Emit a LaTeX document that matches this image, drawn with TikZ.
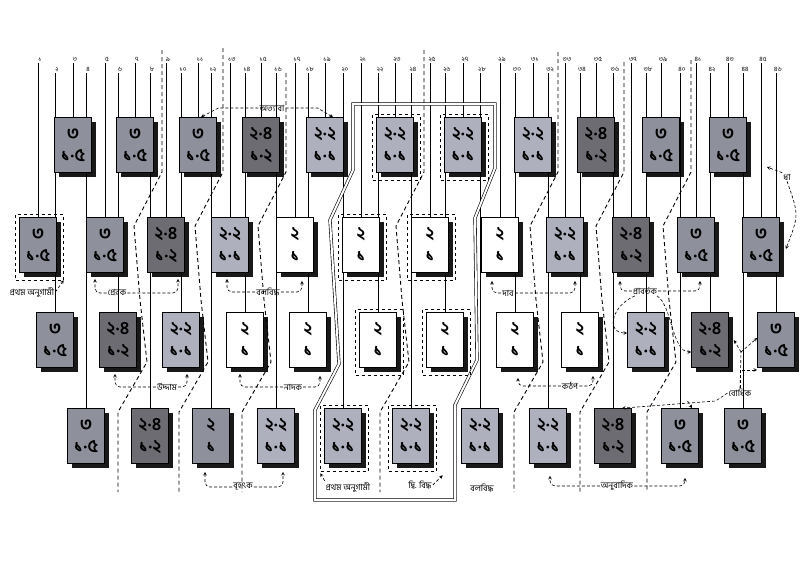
\documentclass[tikz,border=0pt]{standalone}
\usepackage{fontspec}
\newfontfamily\bn[Script=Bengali]{Hind Siliguri}
\usetikzlibrary{shadows,fit,backgrounds}
\definecolor{boxgrey}{RGB}{142,144,156}
\definecolor{boxdark}{RGB}{108,108,114}
\definecolor{boxlight}{RGB}{174,176,190}
\newcommand\bdigit[1]{\ifcase#1 ০\or ১\or ২\or ৩\or ৪\or ৫\or ৬\or ৭\or ৮\or ৯\fi}

\begin{document}
\begin{tikzpicture}[x=1pt, y=-1pt]

    % Styles
    \tikzstyle{bx} = [rectangle, draw=black, line width=0.7pt, minimum width=37pt, minimum height=55pt, align=center, inner sep=0pt, font=\bn\bfseries\fontsize{18}{22}\selectfont, drop shadow={shadow xshift=4pt, shadow yshift=-4pt, fill=black, opacity=0.9}]
    \tikzstyle{gthree} = [bx, fill=boxgrey]
    \tikzstyle{gfour} = [bx, fill=boxdark]
    \tikzstyle{gtwo} = [bx, fill=boxlight]
    \tikzstyle{gone} = [bx, fill=white]
    \tikzstyle{vline} = [line width=0.7pt]
    \tikzstyle{sep} = [line width=0.9pt, dash pattern=on 4pt off 3pt]
    \tikzstyle{frame} = [double, double distance=2pt, line width=0.6pt]
    \tikzstyle{dbox} = [draw, dashed, line width=0.7pt, inner sep=5pt]
    \tikzstyle{lab} = [font=\bn\fontsize{8.5}{10}\selectfont, inner sep=1pt]
    \tikzstyle{numlab} = [font=\bn\fontsize{6.5}{8}\selectfont, inner sep=1pt, anchor=south]
    \tikzstyle{conn} = [densely dashed, semithick, ->, >=stealth]

    \useasboundingbox (0,0) rectangle (800,560);

    % Boites
    \foreach \c/\xx/\sty/\hi/\lo in {1/73/gthree/৩/১·৫, 2/135/gthree/৩/১·৫, 3/198/gthree/৩/১·৫, 4/261/gfour/২·৪/১·২, 5/325/gtwo/২·২/১·১, 6/395/gtwo/২·২/১·১, 7/463/gtwo/২·২/১·১, 8/533/gtwo/২·২/১·১, 9/596/gfour/২·৪/১·২, 10/661/gthree/৩/১·৫, 11/728/gthree/৩/১·৫}
        \node[\sty] (r1c\c) at (\xx,145) {\hi\\\lo};
    \foreach \c/\xx/\sty/\hi/\lo in {1/38/gthree/৩/১·৫, 2/105/gthree/৩/১·৫, 3/166/gfour/২·৪/১·২, 4/230/gtwo/২·২/১·১, 5/295/gone/২/১, 6/361/gone/২/১, 7/430/gone/২/১, 8/500/gone/২/১, 9/565/gtwo/২·২/১·১, 10/631/gfour/২·৪/১·২, 11/696/gthree/৩/১·৫, 12/761/gthree/৩/১·৫}
        \node[\sty] (r2c\c) at (\xx,245) {\hi\\\lo};
    \foreach \c/\xx/\sty/\hi/\lo in {1/55/gthree/৩/১·৫, 2/118/gfour/২·৪/১·২, 3/181/gtwo/২·২/১·১, 4/245/gone/২/১, 5/308/gone/২/১, 6/378/gone/২/১, 7/445/gone/২/১, 8/515/gone/২/১, 9/580/gone/২/১, 10/646/gtwo/২·২/১·১, 11/710/gfour/২·৪/১·২, 12/776/gthree/৩/১·৫}
        \node[\sty] (r3c\c) at (\xx,340) {\hi\\\lo};
    \foreach \c/\xx/\sty/\hi/\lo in {1/86/gthree/৩/১·৫, 2/150/gfour/২·৪/১·২, 3/211/gthree/২/১, 4/276/gtwo/২·২/১·১, 5/343/gtwo/২·২/১·১, 6/411/gtwo/২·২/১·১, 7/480/gtwo/২·২/১·১, 8/548/gtwo/২·২/১·১, 9/613/gfour/২·৪/১·২, 10/680/gthree/৩/১·৫, 11/743/gthree/৩/১·৫}
        \node[\sty] (r4c\c) at (\xx,436) {\hi\\\lo};

    % Cadres en tirets
    \foreach \n in {r1c6,r1c7,r2c1,r2c6,r2c7,r3c6,r3c7,r4c5,r4c6}
        \node[dbox, fit=(\n), xshift=1.5pt, yshift=-2pt] (d\n) {};

    \begin{scope}[on background layer]
        % Lignes verticales
        \foreach \g in {1,...,12}
            \foreach \rw [count=\k] in {2,3,1,4}{
                \pgfmathtruncatemacro\i{4*(\g-1)+\k}
                \ifnum\i<47
                    \pgfmathtruncatemacro\ytop{mod(\i,2)==1 ? 63 : 73}
                    \pgfmathtruncatemacro\tens{\i/10}
                    \pgfmathtruncatemacro\ones{\i-10*\tens}
                    \coordinate (t\i) at (r\rw c\g.north |- 0,\ytop);
                    \draw[vline] (t\i) -- (r\rw c\g.north);
                    \node[numlab] at ([xshift=2pt]t\i) {\ifnum\tens>0 \bdigit\tens\fi\bdigit\ones};
                \fi
            }
        % Separations
        \foreach \xt/\ys in {162/50, 223/48, 286/73, 424/50, 558/52, 624/62, 691/60}
            \draw[sep] (\xt,\ys) -- (\xt,172) -- ({\xt-28},226) -- ({\xt-22},300) -- ({\xt-15},362) -- ({\xt-44},412) -- ({\xt-44},492);
        % Double cadre
        \draw[frame] (353,104) -- (495,104) -- (495,168) -- (475,218) -- (477,360) -- (455,405) -- (455,500) -- (315,500) -- (315,410) -- (339,364) -- (330,220) -- (353,170) -- cycle;
    \end{scope}

    % Etiquettes
    \node[lab] (atya) at (272,108) {অত্যাবা};
    \node[lab] (anug1) at (32,292) {প্রথম অনুগামী};
    \node[lab] (prer) at (117,293) {প্রেরক};
    \node[lab] (bal1) at (268,292) {বলবিদ্ধ};
    \node[lab] (dab) at (508,293) {দাব};
    \node[lab] (prab) at (645,291) {প্রাবর্তক};
    \node[lab] (uddam) at (167,387) {উদ্দাম};
    \node[lab] (nadak) at (293,387) {নাদক};
    \node[lab] (kamp) at (570,386) {কঠপ};
    \node[lab] (bodh) at (740,393) {বোধিক};
    \node[lab] (brihat) at (243,487) {বৃহৎক};
    \node[lab] (anug2) at (348,487) {প্রথম অনুগামী};
    \node[lab] (dvit) at (420,485) {দ্বি. বিদ্ধ};
    \node[lab] (bal2) at (482,488) {বলবিদ্ধ};
    \node[lab] (anub) at (617,486) {অনুবাদিক};
    \node[lab] (dha) at (787,177) {ধা};

    % Fleches
    \draw[conn] (atya.west) -- ++(-40,0) -- ([xshift=3pt]r1c3.north);
    \draw[conn] (atya.east) -- ++(32,0) -- ([xshift=8pt]r1c5.north);
    \draw[conn] (anug1.east) -- (dr2c1.south east);
    \draw[conn, rounded corners=5pt] (prer.west) -| ([xshift=-10pt,yshift=-6pt]r2c2.south);
    \draw[conn, rounded corners=5pt] (prer.east) -| ([xshift=12pt,yshift=-6pt]r2c3.south);
    \draw[conn, rounded corners=5pt] (bal1.west) -| ([xshift=-3pt,yshift=-6pt]r2c4.south);
    \draw[conn, rounded corners=5pt] (bal1.east) -| ([xshift=7pt,yshift=-8pt]r2c5.south);
    \draw[conn, rounded corners=5pt] (dab.west) -| ([xshift=-8pt,yshift=-8pt]r2c8.south);
    \draw[conn, rounded corners=5pt] (dab.east) -| ([xshift=10pt,yshift=-8pt]r2c9.south);
    \draw[conn, rounded corners=5pt] (prab.west) -| ([xshift=-11pt,yshift=-8pt]r2c10.south);
    \draw[conn, rounded corners=5pt] (prab.east) -| ([xshift=4pt,yshift=-8pt]r2c11.south);
    \draw[conn] ([xshift=-10pt]prab.south) .. controls (612,305) and (605,333) .. ([yshift=7pt]r3c10.west);
    \draw[conn] ([xshift=12pt]prab.south) .. controls (672,305) and (672,352) .. ([yshift=-12pt]r3c11.west);
    \draw[conn, rounded corners=5pt] (uddam.west) -| ([xshift=-3pt,yshift=-6pt]r3c2.south);
    \draw[conn, rounded corners=5pt] (uddam.east) -| ([xshift=6pt,yshift=-6pt]r3c3.south);
    \draw[conn, rounded corners=5pt] (nadak.west) -| ([xshift=-5pt,yshift=-6pt]r3c4.south);
    \draw[conn, rounded corners=5pt] (nadak.east) -| ([xshift=12pt,yshift=-8pt]r3c5.south);
    \draw[conn, rounded corners=5pt] (kamp.west) -| ([xshift=3pt,yshift=-10pt]r3c8.south);
    \draw[conn, rounded corners=5pt] (kamp.east) -| ([xshift=13pt,yshift=-8pt]r3c9.south);
    \coordinate (bj) at (741,352);
    \draw[densely dashed, semithick] (bodh.north) -- (bj);
    \draw[conn] (bj) -- ([xshift=5pt]r3c11.east);
    \draw[conn] (bj) -- ([yshift=2pt]r3c12.west);
    \draw[conn] (bodh.north) |- ([yshift=-30pt]r3c12.west);
    \draw[conn] (bodh.west) -- ++(-12,8) -- ([xshift=9pt]r4c9.north);
    \draw[conn] ([xshift=-40pt,yshift=-8pt]bodh.west) -- ([xshift=12pt]r4c10.north);
    \draw[conn, rounded corners=5pt] (brihat.west) -| ([xshift=-6pt,yshift=-8pt]r4c3.south);
    \draw[conn, rounded corners=5pt] (brihat.east) -| ([xshift=7pt,yshift=-8pt]r4c4.south);
    \draw[conn] (anug2.north west) -- ([yshift=-2pt]dr4c5.south west);
    \draw[conn] (dvit.east) -- ([xshift=6pt,yshift=-4pt]dr4c6.south east);
    \draw[conn, rounded corners=5pt] (anub.west) -| ([xshift=2pt,yshift=-12pt]r4c8.south);
    \draw[conn, rounded corners=5pt] (anub.east) -| ([xshift=5pt,yshift=-14pt]r4c10.south);
    \draw[conn] (dha.north west) -- ([xshift=20pt,yshift=-22pt]r1c11.east);
    \draw[conn] (dha.south) .. controls (799,215) .. ([xshift=6pt,yshift=-4pt]r2c12.east);

\end{tikzpicture}
\end{document}
